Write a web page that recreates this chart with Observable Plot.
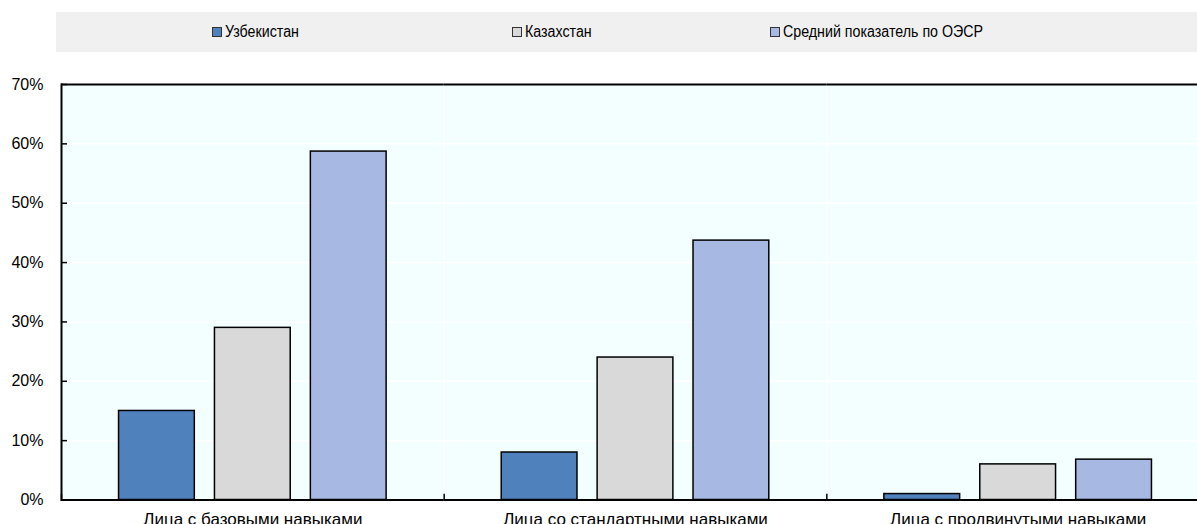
<!DOCTYPE html>
<html>
<head>
<meta charset="utf-8">
<script src="https://cdn.jsdelivr.net/npm/d3@7"></script>
<script src="https://cdn.jsdelivr.net/npm/@observablehq/plot@0.6"></script>
<style>
  html, body { margin: 0; padding: 0; background: #fff; overflow: hidden; width: 1197px; height: 524px; }
  #legend { position: relative; height: 60px; font-family: "Liberation Sans", Arial, sans-serif; font-size: 16px; color: #000; }
  #legend .box { position: absolute; left: 56px; top: 12px; width: 1141px; height: 40px; background: #F0F0F0; }
  #legend .item { position: absolute; top: 22px; height: 20px; display: flex; align-items: center; white-space: nowrap; }
  #legend .sw { width: 10px; height: 10px; border: 1px solid #333; box-sizing: border-box; margin-right: 3px; flex: none; }
  #legend .txt { display: inline-block; transform: scaleX(0.89); transform-origin: left center; }
  #chart { width: 1197px; overflow: hidden; }
  #chart svg { display: block; max-width: none !important; height: 464px !important; }
</style>
</head>
<body>
<div id="legend"><div class="box"></div></div>
<div id="chart"></div>
<script>
// Skill groups along the x axis
const categories = ["Лица с базовыми навыками", "Лица со стандартными навыками", "Лица с продвинутыми навыками"];
// Series, in legend order
const series = ["Узбекистан", "Казахстан", "Средний показатель по ОЭСР"];
const colors = ["#4F81BD", "#D9D9D9", "#A7B9E3"];
// Share of people (%) per skill group
const uzbekistan = [15, 8, 1];
const kazakhstan = [29, 24, 6];
const oecdAverage = [58.7, 43.7, 6.8];
// Y axis ticks (%)
const yTicks = [0, 10, 20, 30, 40, 50, 60, 70];

const valuesBySeries = [uzbekistan, kazakhstan, oecdAverage];
const table = [];
categories.forEach((c, i) => {
  series.forEach((s, j) => table.push({category: c, series: s, value: valuesBySeries[j][i]}));
});

// Legend row
const legendLeft = [212, 512, 770];
const legend = document.getElementById("legend");
series.forEach((s, j) => {
  const item = document.createElement("div");
  item.className = "item";
  item.style.left = legendLeft[j] + "px";
  const sw = document.createElement("span");
  sw.className = "sw";
  sw.style.background = colors[j];
  const label = document.createElement("span");
  label.className = "txt";
  label.textContent = s;
  item.append(sw, label);
  legend.append(item);
});

const font = "'Liberation Sans', Arial, sans-serif";

// The plot area runs slightly past the right edge of the page and is clipped there
const chart = Plot.plot({
  width: 1209,
  height: 464,
  marginTop: 24,
  marginBottom: 24.5,
  marginLeft: 61,
  marginRight: 0,
  style: {fontFamily: font, fontSize: "16px", color: "#000", background: "transparent", overflow: "visible"},
  fx: {domain: categories, padding: 0, round: false, label: null, axis: null},
  x: {domain: series, paddingInner: 0.21, paddingOuter: 0.6, round: false, axis: null},
  y: {domain: [0, 70], label: null, axis: null},
  color: {domain: series, range: colors},
  marks: [
    Plot.frame({fill: "#F3FEFE", stroke: null}),
    Plot.gridY(yTicks, {stroke: "white", strokeOpacity: 1, strokeWidth: 1.5}),
    Plot.frame({anchor: "left", stroke: "white", strokeOpacity: 1, strokeWidth: 1.5}),
    Plot.barY(table, {fx: "category", x: "series", y: "value", fill: "series", stroke: "black", strokeWidth: 1.5}),
    Plot.frame({anchor: "left", stroke: "black", strokeWidth: 1.5, insetTop: 410}),
    Plot.ruleY([0], {stroke: "black", strokeWidth: 2}),
    Plot.ruleY([70], {stroke: "black", strokeWidth: 2}),
    Plot.frame({facet: "super", anchor: "left", stroke: "black", strokeWidth: 2}),
    Plot.axisY(yTicks, {anchor: "left", tickSize: 6, dx: 6, tickPadding: 18, tickFormat: d => d + "%", fontSize: 16, strokeWidth: 1.5}),
    Plot.axisFx({anchor: "bottom", tickSize: 0, tickPadding: 12.5, fontSize: 17, label: null})
  ]
});
document.getElementById("chart").append(chart);
</script>
</body>
</html>
